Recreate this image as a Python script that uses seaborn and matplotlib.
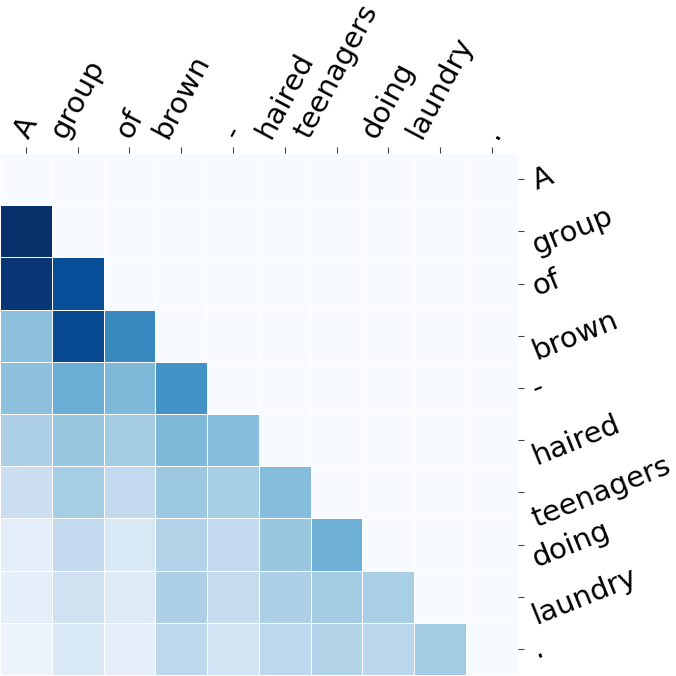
import matplotlib
matplotlib.use("Agg")
import matplotlib.pyplot as plt
import numpy as np
import seaborn as sns

tokens = ["A", "group", "of", "brown", "-", "haired", "teenagers", "doing", "laundry", "."]

# attention weights (row = query token, only earlier tokens nonzero)
row_0 = [0.0, 0.0, 0.0, 0.0, 0.0, 0.0, 0.0, 0.0, 0.0, 0.0]
row_1 = [1.00, 0.0, 0.0, 0.0, 0.0, 0.0, 0.0, 0.0, 0.0, 0.0]
row_2 = [0.98, 0.88, 0.0, 0.0, 0.0, 0.0, 0.0, 0.0, 0.0, 0.0]
row_3 = [0.42, 0.90, 0.66, 0.0, 0.0, 0.0, 0.0, 0.0, 0.0, 0.0]
row_4 = [0.42, 0.50, 0.45, 0.62, 0.0, 0.0, 0.0, 0.0, 0.0, 0.0]
row_5 = [0.33, 0.39, 0.36, 0.45, 0.43, 0.0, 0.0, 0.0, 0.0, 0.0]
row_6 = [0.22, 0.35, 0.26, 0.38, 0.35, 0.43, 0.0, 0.0, 0.0, 0.0]
row_7 = [0.10, 0.26, 0.15, 0.31, 0.26, 0.39, 0.49, 0.0, 0.0, 0.0]
row_8 = [0.09, 0.20, 0.12, 0.33, 0.24, 0.33, 0.36, 0.34, 0.0, 0.0]
row_9 = [0.06, 0.15, 0.09, 0.28, 0.19, 0.28, 0.31, 0.29, 0.36, 0.0]

weights = np.array([row_0, row_1, row_2, row_3, row_4,
                    row_5, row_6, row_7, row_8, row_9])

fig = plt.figure(figsize=(6.76, 6.76), dpi=100)
ax = fig.add_axes([0.0, 0.0015, 0.766, 0.772])
sns.heatmap(weights, ax=ax, cmap="Blues", vmin=0, vmax=1, cbar=False,
            linewidths=0.6, linecolor="white",
            xticklabels=tokens, yticklabels=tokens)

ax.xaxis.tick_top()
ax.yaxis.tick_right()
ax.tick_params(axis="both", labelsize=21, color="#444444", length=4)
plt.setp(ax.get_xticklabels(), rotation=62, ha="center", va="bottom")
plt.setp(ax.get_yticklabels(), rotation=22, ha="left", va="center")

fig.savefig("out.png", dpi=100)
